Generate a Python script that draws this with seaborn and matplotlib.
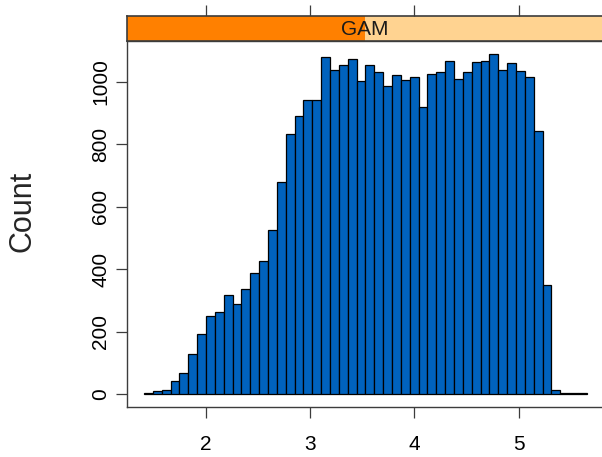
import numpy as np
import pandas as pd
import matplotlib
matplotlib.use("Agg")
import matplotlib.pyplot as plt
import seaborn as sns
from matplotlib.patches import Rectangle

# ---- data ----
panel_label = "GAM"
y_label = "Count"
bin_start = 1.405
bin_width = 0.085
counts = [3, 10, 14, 42, 68, 130, 192, 249, 263, 317,
          288, 337, 388, 427, 525, 678, 832, 889, 941, 941,
          1078, 1038, 1054, 1072, 1001, 1053, 1030, 986, 1020, 1005,
          1014, 918, 1026, 1030, 1067, 1010, 1030, 1062, 1067, 1088,
          1038, 1059, 1034, 1014, 843, 351, 14, 3, 3, 3]
x_ticks = [2, 3, 4, 5]
y_ticks = [0, 200, 400, 600, 800, 1000]
x_limits = (1.242, 5.81)
y_limits = (-40.6, 1130)

edges = bin_start + bin_width * np.arange(len(counts) + 1)
centers = (edges[:-1] + edges[1:]) / 2
df = pd.DataFrame({"value": centers, "count": counts})

sns.set_theme(style="white")
plt.rcParams["font.family"] = ["Liberation Sans", "DejaVu Sans"]

line_col = "#3c3c3c"
fig = plt.figure(figsize=(6.02, 4.57), dpi=100)
L, B, W, H = 127 / 602, 1 - 407 / 457, (603 - 127) / 602, (407 - 41) / 457
ax = fig.add_axes([L, B, W, H])
sns.histplot(data=df, x="value", weights="count", bins=[float(e) for e in edges],
             stat="count", color="#0062BD", edgecolor="black", linewidth=0.9,
             alpha=1, ax=ax)
ax.set_xlim(*x_limits)
ax.set_ylim(*y_limits)
ax.set_xticks(x_ticks)
ax.set_yticks(y_ticks)
ax.set_xticklabels([str(t) for t in x_ticks])
ax.set_yticklabels([str(t) for t in y_ticks])
ax.set_xlabel("")
ax.set_ylabel(y_label, fontsize=22)
ax.yaxis.set_label_coords(-0.219, 0.535)
ax.yaxis.label.set_va("center")
ax.tick_params(axis="both", which="both", direction="out", length=8, width=0.9,
               color=line_col, labelsize=15, labelcolor="black",
               bottom=True, left=True, top=False, right=False)
ax.tick_params(axis="x", pad=12)
ax.tick_params(axis="y", pad=4, labelrotation=90)
for lab in ax.get_yticklabels():
    lab.set_va("center")
for s in ax.spines.values():
    s.set_color(line_col)
    s.set_linewidth(1.0)
    s.set_visible(True)

# strip
sax = fig.add_axes([L, 1 - 41 / 457, W, 25 / 457])
sax.set_facecolor("#FFD391")
sax.add_patch(Rectangle((0, 0), 0.5, 1, transform=sax.transAxes,
                        facecolor="#FF8000", edgecolor="none"))
sax.text(0.5, 0.45, panel_label, transform=sax.transAxes, ha="center",
         va="center", fontsize=15, color="#1a1a1a")
sax.set_xlim(*x_limits)
sax.set_ylim(0, 1)
sax.set_xticks(x_ticks)
sax.set_yticks([])
sax.tick_params(axis="x", direction="out", length=8, width=0.9, color=line_col,
                top=True, bottom=False, labeltop=False, labelbottom=False)
for s in sax.spines.values():
    s.set_color(line_col)
    s.set_linewidth(1.2)
    s.set_visible(True)

fig.savefig("out.png", dpi=100)
